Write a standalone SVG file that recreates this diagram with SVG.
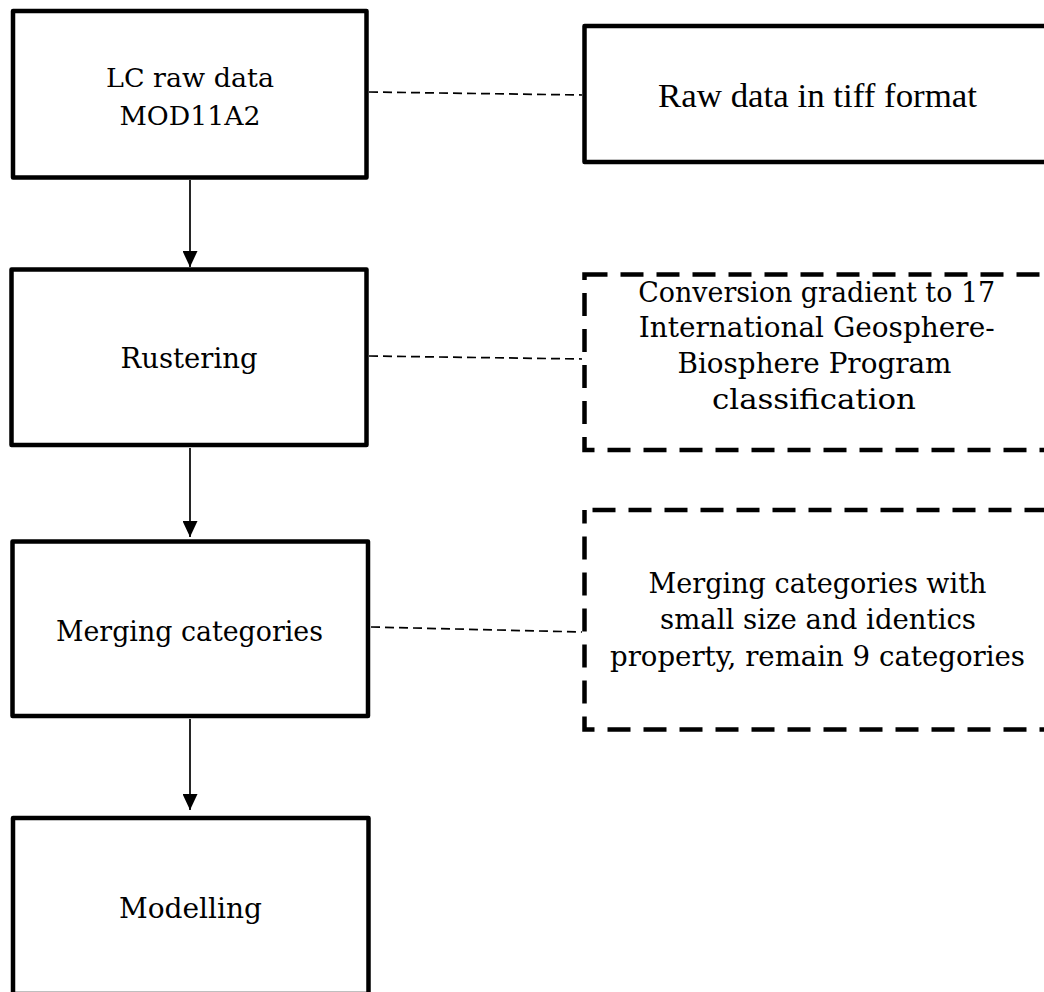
<svg xmlns="http://www.w3.org/2000/svg" width="1044" height="992" viewBox="0 0 1044 992">
<defs>
<style>
.box{fill:#fff;stroke:#000;stroke-width:4.5;stroke-linejoin:round}
.dbox{fill:#fff;stroke:#000;stroke-width:4.5;stroke-dasharray:23 13;stroke-linejoin:miter}
.t{font-family:"DejaVu Serif",Georgia,serif;fill:#000;text-anchor:middle}
.tr{font-family:"Liberation Serif","Times New Roman",serif;fill:#000;text-anchor:middle}
.arrow{stroke:#000;stroke-width:1.7;fill:none}
.link{stroke:#000;stroke-width:1.7;stroke-dasharray:9 5;fill:none}
</style>
<marker id="ah" viewBox="0 0 16 15" markerWidth="16" markerHeight="15" refX="16" refY="7.5" orient="auto" markerUnits="userSpaceOnUse">
<path d="M0,0 L16,7.5 L0,15 Z" fill="#000"/>
</marker>
</defs>
<rect width="1044" height="992" fill="#fff"/>

<g id="connectors">
<line class="arrow" x1="190" y1="180" x2="190" y2="267" marker-end="url(#ah)"/>
<line class="arrow" x1="190" y1="448" x2="190" y2="537" marker-end="url(#ah)"/>
<line class="arrow" x1="190" y1="719" x2="190" y2="810" marker-end="url(#ah)"/>
<line class="link" x1="369" y1="92" x2="582" y2="95"/>
<line class="link" x1="369" y1="356" x2="582" y2="359"/>
<line class="link" x1="371" y1="627" x2="582" y2="632"/>
</g>

<g id="lc-raw-data">
<rect class="box" x="13" y="11" width="353.5" height="166.5"/>
<text class="t" x="190" y="87.3" font-size="26.5" textLength="168" lengthAdjust="spacingAndGlyphs">LC raw data</text>
<text class="t" x="190" y="125" font-size="26.5" textLength="141" lengthAdjust="spacingAndGlyphs">MOD11A2</text>
</g>

<g id="rustering">
<rect class="box" x="11.5" y="269.5" width="355" height="175.5"/>
<text class="t" x="189" y="368.3" font-size="27.5" textLength="137" lengthAdjust="spacingAndGlyphs">Rustering</text>
</g>

<g id="merging-categories">
<rect class="box" x="12.5" y="541.5" width="355.5" height="174.5"/>
<text class="t" x="189.5" y="641" font-size="27.5" textLength="267" lengthAdjust="spacingAndGlyphs">Merging categories</text>
</g>

<g id="modelling">
<rect class="box" x="13" y="818" width="355.5" height="176"/>
<text class="t" x="190.5" y="917.7" font-size="27.5" textLength="143" lengthAdjust="spacingAndGlyphs">Modelling</text>
</g>

<g id="raw-data-tiff">
<rect class="box" x="584.5" y="26" width="470" height="136"/>
<text class="tr" x="817.5" y="107" font-size="34.5" textLength="319" lengthAdjust="spacingAndGlyphs">Raw data in tiff format</text>
</g>

<g id="conversion-igbp">
<path class="dbox" d="M584.5,274.5 H1059.75 V450 H584.5 Z"/>
<text class="t" x="816.7" y="301.7" font-size="27.5" textLength="357" lengthAdjust="spacingAndGlyphs">Conversion gradient to 17</text>
<text class="t" x="816.7" y="336.7" font-size="27.5" textLength="356" lengthAdjust="spacingAndGlyphs">International Geosphere-</text>
<text class="t" x="814.5" y="372.7" font-size="27.5" textLength="274" lengthAdjust="spacingAndGlyphs">Biosphere Program</text>
<text class="t" x="814" y="409" font-size="27.5" textLength="204" lengthAdjust="spacingAndGlyphs">classification</text>
</g>

<g id="merging-small">
<path class="dbox" d="M584.5,510 H1059.75 V729.5 H584.5 Z" stroke-dashoffset="-8"/>
<text class="t" x="817.5" y="593.3" font-size="27.3" textLength="338" lengthAdjust="spacingAndGlyphs">Merging categories with</text>
<text class="t" x="818" y="629.3" font-size="27.3" textLength="316" lengthAdjust="spacingAndGlyphs">small size and identics</text>
<text class="t" x="817.5" y="665.7" font-size="27.3" textLength="415" lengthAdjust="spacingAndGlyphs">property, remain 9 categories</text>
</g>
</svg>
